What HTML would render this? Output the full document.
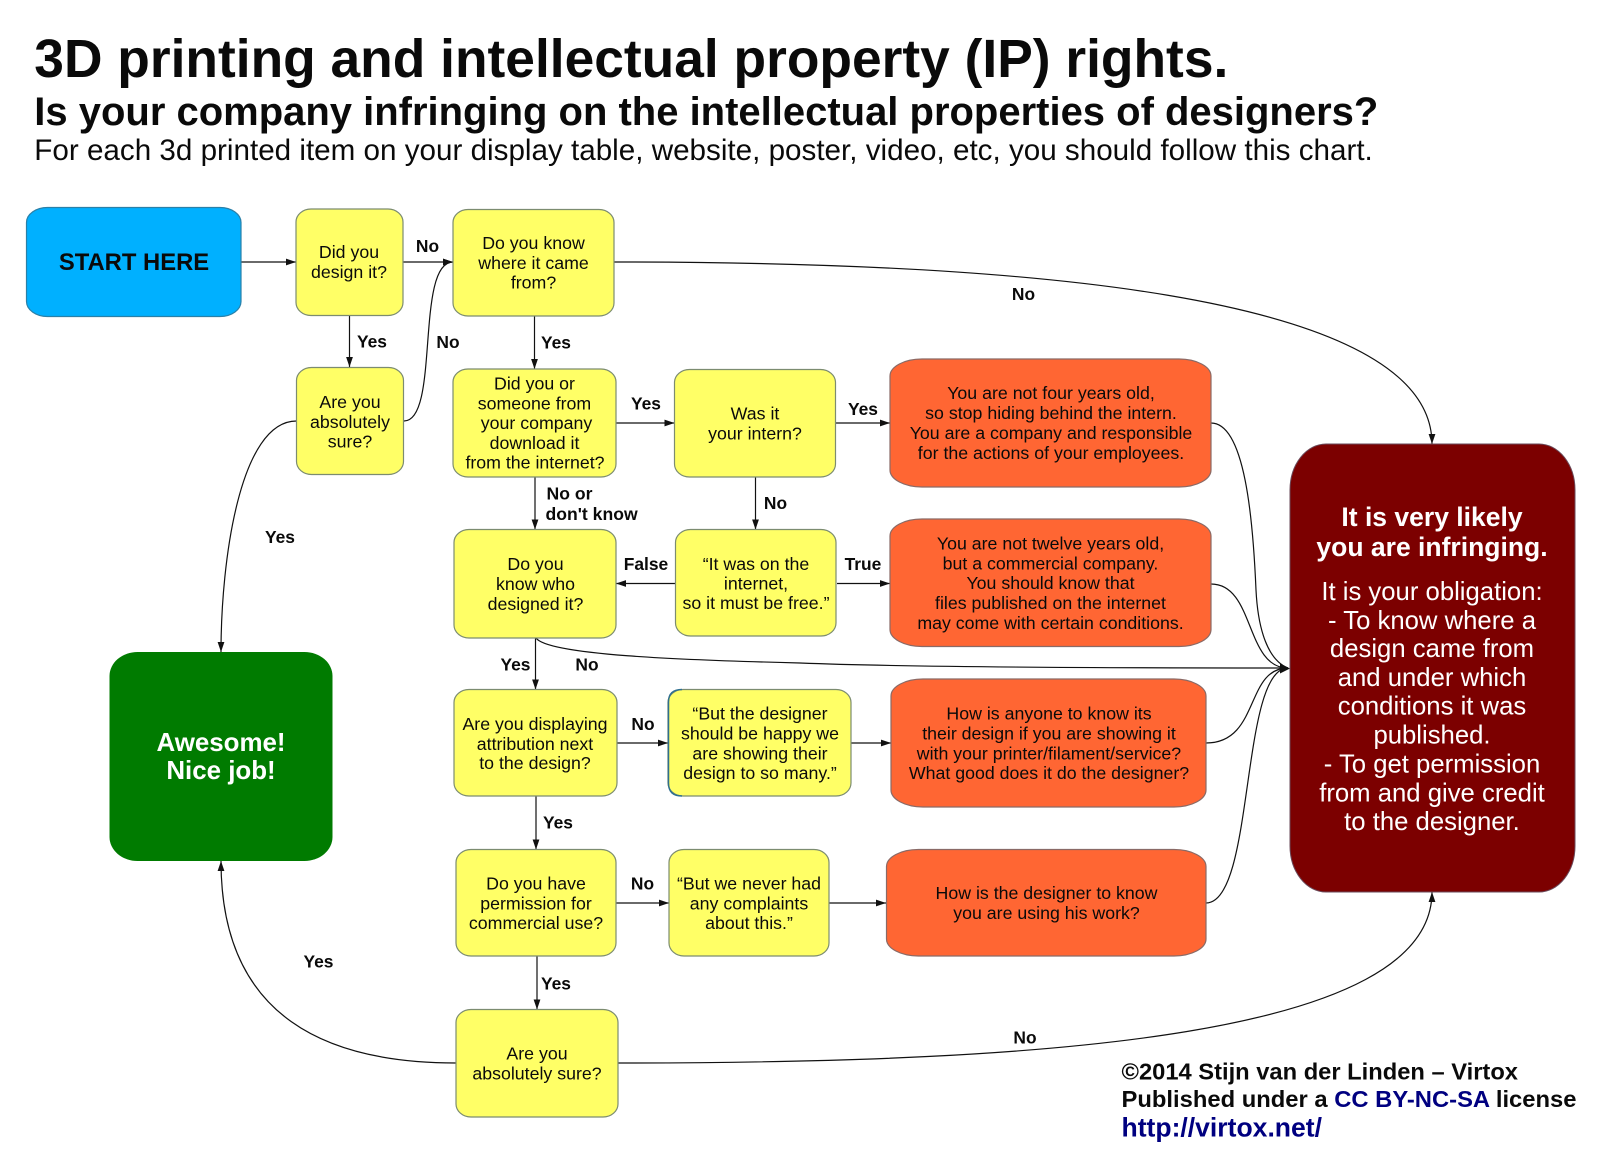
<!DOCTYPE html>
<html lang="en">
<head>
<meta charset="utf-8">
<title>3D printing and intellectual property (IP) rights</title>
<style>
html,body{margin:0;padding:0;background:#fff;width:1600px;height:1166px;overflow:hidden}
svg{display:block}
text{font-family:"Liberation Sans",Arial,sans-serif;fill:#0a0a0a}
.n{font-size:17.75px;text-anchor:middle}
.l{font-size:17.4px;font-weight:bold;text-anchor:middle}
.ls{font-size:17.6px;font-weight:bold;text-anchor:start}
.y{fill:#ffff66;stroke:#7c8c70;stroke-width:1.2}
.o{fill:#ff6633;stroke:#8a6a66;stroke-width:1.2}
.c{fill:none;stroke:#111;stroke-width:1.2}
.w{fill:#fff;text-anchor:middle}
.f{font-weight:bold;font-size:23.5px}
</style>
</head>
<body>
<svg width="1600" height="1166" viewBox="0 0 1600 1166" xmlns="http://www.w3.org/2000/svg">
<defs>
<marker id="a" markerUnits="userSpaceOnUse" markerWidth="11" markerHeight="8" refX="10" refY="4" orient="auto"><path d="M0,0.6 L10,4 L0,7.4 Z" fill="#111"/></marker>
</defs>

<!-- Title -->
<text x="34.3" y="77" font-size="53.5" font-weight="bold" textLength="1194" lengthAdjust="spacingAndGlyphs">3D printing and intellectual property (IP) rights.</text>
<text x="34.3" y="125" font-size="40" font-weight="bold" textLength="1344" lengthAdjust="spacingAndGlyphs">Is your company infringing on the intellectual properties of designers?</text>
<text x="34.3" y="160" font-size="30" textLength="1338.5" lengthAdjust="spacingAndGlyphs">For each 3d printed item on your display table, website, poster, video, etc, you should follow this chart.</text>

<!-- Connectors -->
<g class="cs">
<path class="c" marker-end="url(#a)" d="M241,262 H296"/>
<path class="c" marker-end="url(#a)" d="M403,262 H453"/>
<path class="c" marker-end="url(#a)" d="M349.5,316 V367"/>
<path class="c" marker-end="url(#a)" d="M404,421 C440,421 415,262 453,262"/>
<path class="c" marker-end="url(#a)" d="M296.5,421 C240,421 221,560 221,652"/>
<path class="c" marker-end="url(#a)" d="M614,262 C1000,262 1432,290 1432,444"/>
<path class="c" marker-end="url(#a)" d="M534.5,316 V369"/>
<path class="c" marker-end="url(#a)" d="M616,423 H674.5"/>
<path class="c" marker-end="url(#a)" d="M836,423 H890"/>
<path class="c" d="M1211,423 C1245,423 1253,520 1256,590 C1258,630 1268,660 1288,668"/>
<path class="c" d="M1211,584 C1255,584 1245,668 1288,668"/>
<path class="c" d="M536,638 C548,655 680,660 800,663 C900,667 1100,668 1288,668"/>
<path class="c" d="M1206,743 C1260,743 1245,668 1288,668"/>
<path class="c" d="M1206,903 C1255,903 1240,668 1288,668"/>
<path d="M1280,663.5 L1290,668.5 L1280,673.5 Z" fill="#111"/>
<path class="c" marker-end="url(#a)" d="M675.5,583.5 H616"/>
<path class="c" marker-end="url(#a)" d="M837,583.5 H890"/>
<path class="c" marker-end="url(#a)" d="M755.5,477 V529.5"/>
<path class="c" marker-end="url(#a)" d="M535,477 V529.5"/>
<path class="c" marker-end="url(#a)" d="M535.5,638 V689.5"/>
<path class="c" marker-end="url(#a)" d="M617,743 H668"/>
<path class="c" marker-end="url(#a)" d="M851,743 H891"/>
<path class="c" marker-end="url(#a)" d="M536,796 V849.5"/>
<path class="c" marker-end="url(#a)" d="M616,903 H669"/>
<path class="c" marker-end="url(#a)" d="M829,903 H886"/>
<path class="c" marker-end="url(#a)" d="M537,956 V1009.5"/>
<path class="c" marker-end="url(#a)" d="M456,1063 C330,1063 221,1020 221,861"/>
<path class="c" marker-end="url(#a)" d="M618,1063 C1050,1063 1432,1036 1432,892"/>
</g>

<!-- Nodes -->
<rect x="26.5" y="207.5" width="214.5" height="109" rx="21" ry="15" fill="#00b0ff" stroke="#2a80a8" stroke-width="1.2"/>
<text x="134" y="270" font-size="23.8" font-weight="bold" text-anchor="middle">START HERE</text>

<rect class="y" x="296" y="209" width="107" height="106.5" rx="15" ry="13"/>
<rect class="y" x="453" y="209.5" width="161" height="106.5" rx="15" ry="13"/>
<rect class="y" x="296.5" y="367.5" width="107" height="107" rx="15" ry="13"/>
<rect class="y" x="453" y="369" width="163" height="108" rx="15" ry="13"/>
<rect class="y" x="674.5" y="369.5" width="161" height="107.5" rx="15" ry="13"/>
<rect class="y" x="454" y="529.5" width="162" height="108.5" rx="15" ry="13"/>
<rect class="y" x="675.5" y="529.5" width="160.5" height="106.5" rx="15" ry="13"/>
<rect class="y" x="454" y="689.5" width="163" height="106.5" rx="15" ry="13"/>
<rect class="y" x="668" y="689.5" width="183" height="106.5" rx="15" ry="13" style="stroke:#7c8c70"/>
<path d="M682,689.5 Q668.5,689.5 668.5,702 V783 Q668.5,796 682,796" fill="none" stroke="#2f6f8f" stroke-width="1.5"/>
<rect class="y" x="456" y="849.5" width="160" height="106.5" rx="15" ry="13"/>
<rect class="y" x="669" y="849.5" width="160" height="106.5" rx="15" ry="13"/>
<rect class="y" x="456" y="1009.5" width="162" height="107.5" rx="15" ry="13"/>

<rect class="o" x="890" y="359" width="321" height="128" rx="32" ry="17"/>
<rect class="o" x="890" y="519" width="321" height="127.5" rx="32" ry="17"/>
<rect class="o" x="891" y="679" width="315" height="128" rx="32" ry="17"/>
<rect class="o" x="886.5" y="849.5" width="319.5" height="106.5" rx="32" ry="17"/>

<rect x="109.5" y="652" width="223" height="209" rx="28" ry="24" fill="#007b00"/>
<rect x="1290" y="444" width="285" height="448" rx="36" ry="46" fill="#7c0000" stroke="#6a4a5a" stroke-width="1"/>

<!-- Node text -->
<g class="n">
<text class="n" x="349" y="258">Did you</text>
<text class="n" x="349" y="278">design it?</text>

<text class="n" x="533.5" y="249">Do you know</text>
<text class="n" x="533.5" y="269">where it came</text>
<text class="n" x="533.5" y="288.5">from?</text>

<text class="n" x="350" y="408">Are you</text>
<text class="n" x="350" y="428">absolutely</text>
<text class="n" x="350" y="447.5">sure?</text>

<text class="n" x="534.5" y="389.5">Did you or</text>
<text class="n" x="534.5" y="409.5">someone from</text>
<text class="n" x="536.5" y="429">your company</text>
<text class="n" x="534.5" y="449">download it</text>
<text class="n" x="535" y="468.5">from the internet?</text>

<text class="n" x="755" y="419.5">Was it</text>
<text class="n" x="755" y="439.5">your intern?</text>

<text class="n" x="1051" y="399">You are not four years old,</text>
<text class="n" x="1051" y="419">so stop hiding behind the intern.</text>
<text class="n" x="1051" y="439">You are a company and responsible</text>
<text class="n" x="1051" y="459">for the actions of your employees.</text>

<text class="n" x="535.5" y="570">Do you</text>
<text class="n" x="535.5" y="590">know who</text>
<text class="n" x="535.5" y="610">designed it?</text>

<text class="n" x="756" y="570">“It was on the</text>
<text class="n" x="756" y="589.5">internet,</text>
<text class="n" x="756" y="609">so it must be free.”</text>

<text class="n" x="1050.5" y="549.5">You are not twelve years old,</text>
<text class="n" x="1050.5" y="569.5">but a commercial company.</text>
<text class="n" x="1050.5" y="589">You should know that</text>
<text class="n" x="1050.5" y="609">files published on the internet</text>
<text class="n" x="1050.5" y="629">may come with certain conditions.</text>

<text class="n" x="535" y="730">Are you displaying</text>
<text class="n" x="535" y="750">attribution next</text>
<text class="n" x="535" y="769">to the design?</text>

<text class="n" x="760" y="719.5">“But the designer</text>
<text class="n" x="760" y="739.5">should be happy we</text>
<text class="n" x="760" y="759.5">are showing their</text>
<text class="n" x="760" y="779">design to so many.”</text>

<text class="n" x="1049" y="719.5">How is anyone to know its</text>
<text class="n" x="1049" y="739.5">their design if you are showing it</text>
<text class="n" x="1049" y="759.5">with your printer/filament/service?</text>
<text class="n" x="1049" y="779">What good does it do the designer?</text>

<text class="n" x="536" y="889.5">Do you have</text>
<text class="n" x="536" y="909.5">permission for</text>
<text class="n" x="536" y="929">commercial use?</text>

<text class="n" x="749" y="889.5">“But we never had</text>
<text class="n" x="749" y="909.5">any complaints</text>
<text class="n" x="749" y="929">about this.”</text>

<text class="n" x="1046.5" y="899">How is the designer to know</text>
<text class="n" x="1046.5" y="919">you are using his work?</text>

<text class="n" x="537" y="1059.5">Are you</text>
<text class="n" x="537" y="1079.5">absolutely sure?</text>
</g>

<text class="w" x="221" y="751" font-size="25.9" font-weight="bold" style="fill:#fff">Awesome!</text>
<text class="w" x="221" y="779" font-size="25.9" font-weight="bold" style="fill:#fff">Nice job!</text>

<g font-size="25.7">
<text class="w" x="1432" y="526" font-size="26.5" font-weight="bold" style="fill:#fff">It is very likely</text>
<text class="w" x="1432" y="556" font-size="26.5" font-weight="bold" style="fill:#fff">you are infringing.</text>
<text class="w" x="1432" y="600" style="fill:#fff">It is your obligation:</text>
<text class="w" x="1432" y="629" style="fill:#fff">- To know where a</text>
<text class="w" x="1432" y="657" style="fill:#fff">design came from</text>
<text class="w" x="1432" y="686" style="fill:#fff">and under which</text>
<text class="w" x="1432" y="714.5" style="fill:#fff">conditions it was</text>
<text class="w" x="1432" y="743.5" style="fill:#fff">published.</text>
<text class="w" x="1432" y="772.5" style="fill:#fff">- To get permission</text>
<text class="w" x="1432" y="801.5" style="fill:#fff">from and give credit</text>
<text class="w" x="1432" y="830" style="fill:#fff">to the designer.</text>
</g>

<!-- Connector labels -->
<text class="l" x="427.5" y="252">No</text>
<text class="l" x="372" y="347.5">Yes</text>
<text class="l" x="448" y="348">No</text>
<text class="l" x="556" y="348.5">Yes</text>
<text class="l" x="1023.5" y="300">No</text>
<text class="l" x="646" y="409.5">Yes</text>
<text class="l" x="863" y="415">Yes</text>
<text class="ls" x="546.5" y="499.5">No or</text>
<text class="ls" x="545.5" y="520">don't know</text>
<text class="l" x="775.5" y="509">No</text>
<text class="l" x="646" y="570">False</text>
<text class="l" x="863" y="570">True</text>
<text class="l" x="280" y="543">Yes</text>
<text class="l" x="515.5" y="670.5">Yes</text>
<text class="l" x="587" y="670.5">No</text>
<text class="l" x="643" y="730">No</text>
<text class="l" x="558" y="828.5">Yes</text>
<text class="l" x="642.5" y="889.5">No</text>
<text class="l" x="556" y="989.5">Yes</text>
<text class="l" x="318.5" y="967.5">Yes</text>
<text class="l" x="1025" y="1043.5">No</text>

<!-- Footer -->
<text class="f" x="1121.5" y="1079.5" textLength="396.5" lengthAdjust="spacingAndGlyphs">©2014 Stijn van der Linden – Virtox</text>
<text class="f" x="1121.5" y="1107" textLength="455" lengthAdjust="spacingAndGlyphs">Published under a <tspan style="fill:#000080">CC BY-NC-SA</tspan> license</text>
<text x="1121.5" y="1136.5" font-size="27" font-weight="bold" textLength="200.5" lengthAdjust="spacingAndGlyphs" style="fill:#000080">http://virtox.net/</text>
</svg>
</body>
</html>
